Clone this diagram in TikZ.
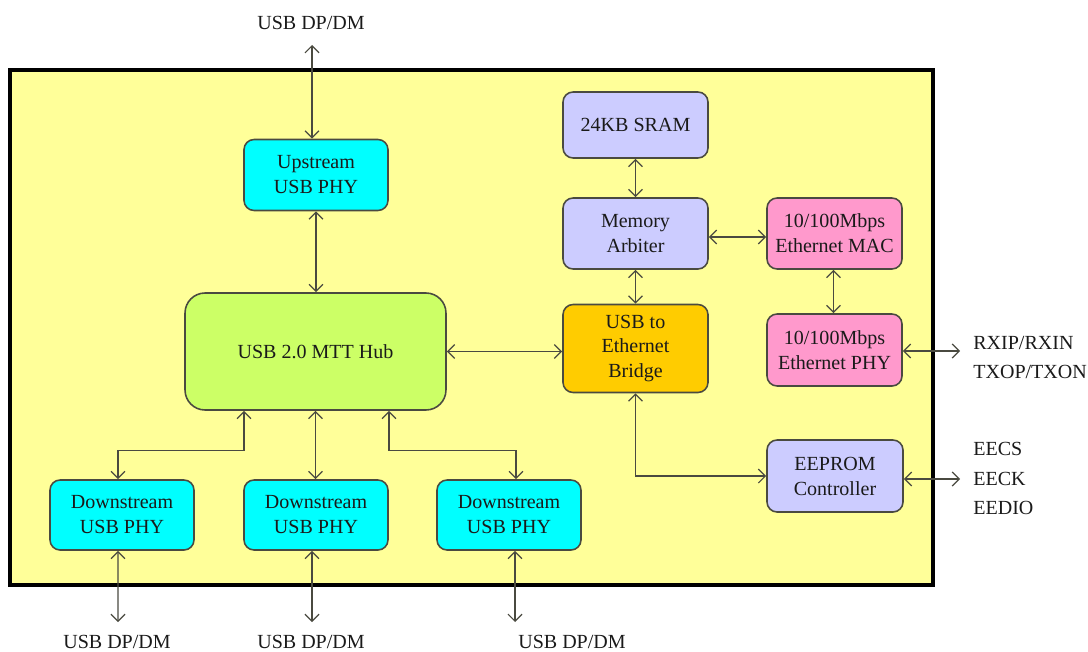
\documentclass[tikz,border=0pt]{standalone}
\usepackage{fontspec}
\setmainfont{Liberation Serif}
\newfontfamily\tnr{Liberation Serif}
\usetikzlibrary{arrows.meta,calc}
\definecolor{frameyellow}{HTML}{FFFF99}
\definecolor{phycyan}{HTML}{00FFFF}
\definecolor{hubgreen}{HTML}{CCFF66}
\definecolor{lav}{HTML}{CCCCFF}
\definecolor{pinkbox}{HTML}{FF99CC}
\definecolor{bridgeorange}{HTML}{FFCC00}
\definecolor{edgegray}{HTML}{4A4A40}
\definecolor{txt}{HTML}{1A1A1A}
\tikzset{
  blk/.style={draw=edgegray, line width=0.9pt, rounded corners=0.2cm, align=center,
    inner sep=0pt, text=txt, font=\tnr\fontsize{11.4}{14.2}\selectfont},
  conn/.style={draw=edgegray, line width=0.7pt, {Straight Barb[length=4pt,width=8pt]}-{Straight Barb[length=4pt,width=8pt]}},
  lbl/.style={text=txt, font=\tnr\fontsize{11.4}{14.2}\selectfont, inner sep=0pt}
}
\begin{document}
\begin{tikzpicture}[x=0.02cm,y=-0.02cm]
\useasboundingbox (0,0) rectangle (1088,652);
% frame
\draw[fill=frameyellow, line width=2.3pt] (10,70) rectangle (933,585);
% blocks
\node[blk, fill=phycyan, minimum width=2.88cm, minimum height=1.42cm] (up) at (316,175) {Upstream\\USB PHY};
\node[blk, fill=hubgreen, rounded corners=0.4cm, minimum width=5.22cm, minimum height=2.34cm] (hub) at (315.5,351.5) {USB 2.0 MTT Hub};
\node[blk, fill=phycyan, minimum width=2.88cm, minimum height=1.4cm] (ds1) at (122,515) {Downstream\\USB PHY};
\node[blk, fill=phycyan, minimum width=2.88cm, minimum height=1.4cm] (ds2) at (316,515) {Downstream\\USB PHY};
\node[blk, fill=phycyan, minimum width=2.88cm, minimum height=1.4cm] (ds3) at (509,515) {Downstream\\USB PHY};
\node[blk, fill=lav, minimum width=2.9cm, minimum height=1.32cm] (sram) at (635.5,125) {24KB SRAM};
\node[blk, fill=lav, minimum width=2.9cm, minimum height=1.42cm] (arb) at (635.5,233.5) {Memory\\Arbiter};
\node[blk, fill=pinkbox, minimum width=2.7cm, minimum height=1.42cm] (mac) at (834.5,233.5) {10/100Mbps\\Ethernet MAC};
\node[blk, fill=bridgeorange, minimum width=2.9cm, minimum height=1.76cm] (bridge) at (635.5,348.5) {USB to\\Ethernet\\Bridge};
\node[blk, fill=pinkbox, minimum width=2.7cm, minimum height=1.44cm] (ephy) at (834.5,350) {10/100Mbps\\Ethernet PHY};
\node[blk, fill=lav, minimum width=2.72cm, minimum height=1.44cm] (eep) at (835,476) {EEPROM\\Controller};
% external labels
\node[lbl] (ltop) at (311,23) {USB DP/DM};
\node[lbl] (lb1) at (117,642) {USB DP/DM};
\node[lbl] (lb2) at (311,642) {USB DP/DM};
\node[lbl] (lb3) at (572,642) {USB DP/DM};
\node[lbl, anchor=west] (lrx) at (973,343) {RXIP/RXIN};
\node[lbl, anchor=west] (ltx) at (973,372) {TXOP/TXON};
\node[lbl, anchor=west] (lcs) at (973,449) {EECS};
\node[lbl, anchor=west] (lck) at (973,479) {EECK};
\node[lbl, anchor=west] (ldio) at (973,508) {EEDIO};
% free ends
\coordinate (ct) at (312,45);
\coordinate (cb1) at (118,622);
\coordinate (cb2) at (312,622);
\coordinate (cb3) at (515,622);
\coordinate (ceth) at (960,351);
\coordinate (ceep) at (960,479);
% connectors
\draw[conn] (ct) -- (ct |- up.north);
\draw[conn] (up.south) -- (up.south |- hub.north);
\draw[conn] ([xshift=-1.43cm]hub.south) -- ++(0,40) -| ([xshift=-0.08cm]ds1.north);
\draw[conn] (hub.south) -- (hub.south |- ds2.north);
\draw[conn] ([xshift=1.47cm]hub.south) -- ++(0,40) -| ([xshift=0.14cm]ds3.north);
\draw[conn] ([xshift=-0.08cm]ds1.south) -- (cb1);
\draw[conn] (cb2 |- ds2.south) -- (cb2);
\draw[conn] (cb3 |- ds3.south) -- (cb3);
\draw[conn] (hub.east) -- (bridge.west |- hub.east);
\draw[conn] (sram.south) -- (arb.north);
\draw[conn] (arb.south) -- (bridge.north);
\draw[conn] ([yshift=-0.07cm]arb.east) -- ([yshift=-0.07cm]mac.west);
\draw[conn] ([xshift=-0.02cm]mac.south) -- ([xshift=-0.02cm]ephy.north);
\draw[conn] (ephy.east |- ceth) -- (ceth);
\draw[conn] (bridge.south) |- (eep.west);
\draw[conn] (eep.east |- ceep) -- (ceep);
\end{tikzpicture}
\end{document}
